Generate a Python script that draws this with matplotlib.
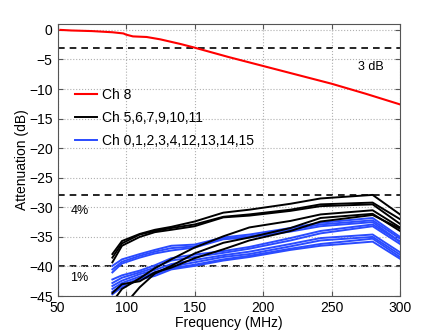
import numpy as np
import matplotlib
matplotlib.use("Agg")
import matplotlib.pyplot as plt

plt.rcParams['font.family'] = ['Liberation Sans', 'DejaVu Sans']

# Ch 8 response
f_red = [52, 60, 75, 90, 98, 100, 105, 115, 125, 140, 150, 175, 200, 225, 250, 275, 300]
a_red = [0, -0.1, -0.2, -0.4, -0.6, -0.8, -1.1, -1.2, -1.6, -2.4, -3.0, -4.6, -6.1, -7.6, -9.1, -10.8, -12.6]

# coupling into other channels
freqs = [90, 97, 110, 121, 133, 150, 171, 190, 220, 242, 280, 300]
black_curves = [
    [-37.9, -35.7, -34.5, -33.8, -33.3, -32.4, -30.9, -30.4, -29.4, -28.5, -27.9, -31.2],
    [-38.5, -36.1, -34.6, -34.0, -33.5, -32.9, -31.6, -31.2, -30.4, -29.5, -29.2, -32.0],
    [-39.3, -36.5, -35.0, -34.2, -33.8, -33.2, -31.7, -31.4, -30.6, -29.8, -29.5, -32.8],
    [-46.0, -43.8, -42.0, -40.3, -38.8, -36.8, -34.9, -33.4, -32.3, -31.2, -30.5, -33.4],
    [-49.0, -47.0, -43.5, -41.2, -39.9, -37.8, -36.0, -35.1, -33.5, -31.8, -31.1, -34.0],
    [-44.5, -43.0, -42.5, -41.0, -40.2, -38.6, -37.1, -35.6, -34.0, -32.4, -31.3, -33.6],
]
blue_curves = [
    [-39.9, -38.8, -37.9, -37.2, -36.5, -36.3, -35.1, -34.6, -33.5, -32.6, -31.8, -35.0],
    [-40.5, -39.2, -38.2, -37.5, -36.9, -36.6, -35.3, -34.9, -33.8, -32.9, -32.2, -35.3],
    [-41.0, -39.5, -38.5, -37.8, -37.3, -36.8, -35.4, -35.1, -34.1, -33.2, -32.5, -35.8],
    [-42.2, -41.5, -40.7, -39.8, -38.6, -38.0, -37.4, -36.7, -35.2, -34.0, -32.9, -35.8],
    [-42.8, -41.9, -41.0, -40.2, -39.0, -38.4, -37.7, -37.0, -35.6, -34.4, -33.2, -36.2],
    [-43.3, -42.4, -41.3, -40.6, -39.6, -38.9, -38.1, -37.5, -36.2, -35.2, -34.6, -37.6],
    [-43.8, -42.8, -41.7, -41.0, -40.0, -39.3, -38.4, -37.9, -36.6, -35.6, -35.0, -38.0],
    [-44.3, -43.2, -42.0, -41.3, -40.3, -39.7, -38.8, -38.2, -37.0, -36.2, -35.3, -38.4],
    [-44.7, -43.5, -42.2, -41.6, -40.5, -39.9, -39.0, -38.4, -37.2, -36.5, -35.8, -38.7],
]
levels = [-3, -28, -40]
level_labels = ['3 dB', '4%', '1%']
label_pos = [(279, -6.3), (66, -30.6), (66, -42.0)]

fig = plt.figure(figsize=(4.43, 3.33), dpi=100)
ax = fig.add_axes([0.130, 0.111, 0.773, 0.817])

blue = '#2a4bff'
for i, c in enumerate(blue_curves):
    ax.plot(freqs, c, color=blue, lw=1.4, label='Ch 0,1,2,3,4,12,13,14,15' if i == 0 else None, zorder=2)
for i, c in enumerate(black_curves):
    ax.plot(freqs, c, color='k', lw=1.4, label='Ch 5,6,7,9,10,11' if i == 0 else None, zorder=3)
ax.plot(f_red, a_red, color='r', lw=1.5, label='Ch 8', zorder=4)

for lv in levels:
    ax.axhline(lv, color='k', ls=(0, (4, 3)), lw=1.2, zorder=1)
for t, (x, y) in zip(level_labels, label_pos):
    ax.text(x, y, t, fontsize=9, ha='center', va='center')

ax.set_xlim(50, 300)
ax.set_ylim(-45, 1)
ax.set_xticks(np.arange(50, 301, 50))
ax.set_yticks(np.arange(-45, 1, 5))
ax.grid(True, ls=':', color='#b0b0b0', lw=0.8)
ax.tick_params(direction='in', labelsize=10, top=True, right=True, color='#555555')
for s in ax.spines.values():
    s.set_color('#555555')
ax.set_xlabel('Frequency (MHz)', fontsize=10, labelpad=1)
ax.set_ylabel('Attenuation (dB)', fontsize=10, labelpad=0)

h, l = ax.get_legend_handles_labels()
order = [2, 1, 0]
ax.legend([h[i] for i in order], [l[i] for i in order], loc='upper left',
          bbox_to_anchor=(0.035, 0.785), borderaxespad=0, frameon=False, fontsize=10,
          handlelength=1.6, handletextpad=0.3, labelspacing=0.65)

fig.savefig('out.png', dpi=100)
